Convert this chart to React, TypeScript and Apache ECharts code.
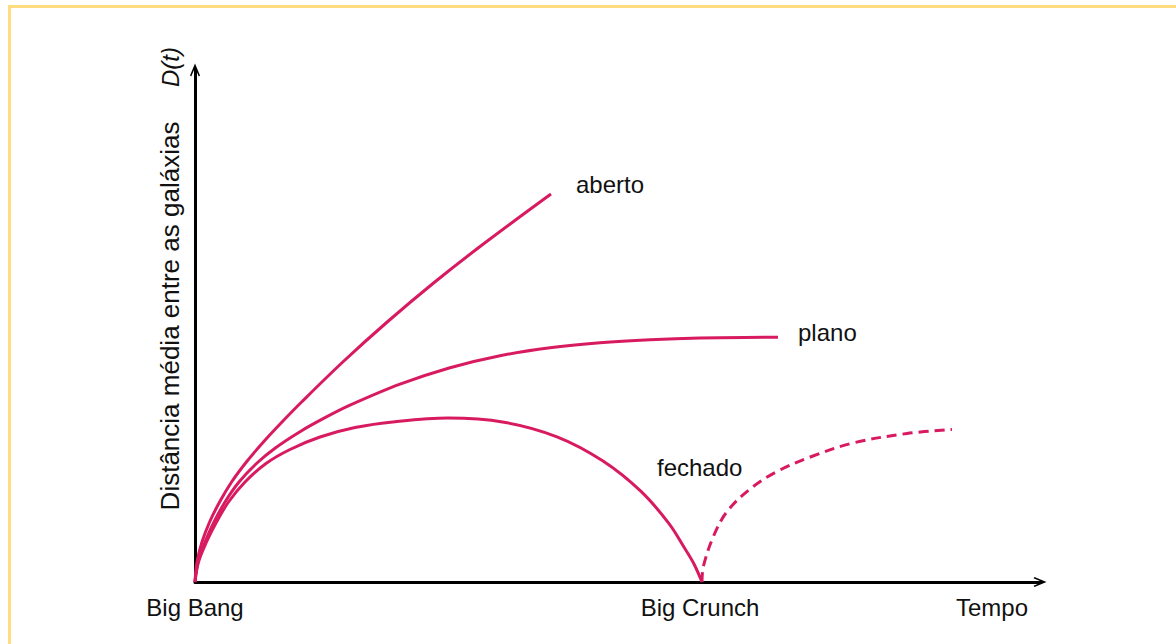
import React, { useEffect, useRef } from "react";
import * as echarts from "echarts";

// Arbitrary units (time t, mean distance D)
const abertoT = [0, 0.2, 0.7, 1.46, 2.46, 3.66, 5.14, 6.84, 8.7, 10.66, 14.78, 19.22, 23.98, 29.1, 35.6];
const abertoD = [0, 2, 4, 6, 8, 10, 12, 14, 16, 18, 22, 26, 30, 34, 38.8];

const planoT = [0, 0.3, 1.0, 1.9, 3.0, 4.4, 6.2, 8.0, 10.5, 13.0, 15.5, 20.5, 25.5, 30.5, 35.5, 40.5, 45.5, 50.5, 58.3];
const planoD = [0, 2, 4, 6, 8, 10, 11.9, 13.38, 15.03, 16.43, 17.68, 19.78, 21.43, 22.63, 23.43, 23.93, 24.23, 24.4, 24.48];

const fechadoT = [0, 0.35, 1.15, 2.15, 3.35, 5.0, 7.1, 9.5, 12.5, 16.0, 20.0, 25.3, 30.9, 36.2, 40.8, 44.6, 47.4, 49.0, 49.9, 50.7];
const fechadoD = [0, 2, 4, 6, 8, 10, 11.85, 13.25, 14.5, 15.45, 16.03, 16.4, 15.98, 14.52, 12.1, 9.06, 5.84, 3.32, 1.8, 0];

const rebirthT = [50.7, 50.83, 51.83, 53.17, 55.5, 58.3, 61.8, 65.8, 71.2, 75.7];
const rebirthD = [0, 1.53, 4.53, 7.0, 9.3, 11.1, 12.6, 13.9, 14.85, 15.25];

const xTickValues = [0, 50.5, 79.7];
const xTickLabels = ["Big Bang", "Big Crunch", "Tempo"];

const curveNames = ["aberto", "plano", "fechado"];
const yTitle = "Distância média entre as galáxias";
const yTopLabel = "D(t)";

const zip = (a: number[], b: number[]) => a.map((v, i) => [v, b[i]]);

const CURVE = "#D81B60";
const FONT = "Liberation Sans, Arial, sans-serif";
const ARROW = "path://M5 0 L10 12 L8.8 13 L6 6.5 L6 13 L4 13 L4 6.5 L1.2 13 L0 12 Z";

export default function App() {
  const ref = useRef<HTMLDivElement>(null);
  useEffect(() => {
    if (!ref.current) return;
    const chart = echarts.init(ref.current, null, { renderer: "svg" });
    const lineSeries = (name: string, data: number[][], dashed = false) => ({
      type: "line",
      name,
      data,
      smooth: 0.35,
      showSymbol: false,
      symbol: "none",
      lineStyle: { color: CURVE, width: 3, type: dashed ? [10, 6] : "solid", cap: "butt" },
      z: 3,
    });
    chart.setOption({
      animation: false,
      backgroundColor: "#ffffff",
      grid: { left: 195, right: 136, top: 70, bottom: 62 },
      xAxis: {
        type: "value",
        min: 0,
        max: 84.5,
        splitLine: { show: false },
        axisTick: { show: false },
        axisLine: {
          show: true,
          onZero: false,
          symbol: ["none", ARROW],
          symbolSize: [10, 13],
          lineStyle: { color: "#000", width: 3 },
        },
        axisLabel: {
          show: true,
          customValues: xTickValues,
          formatter: (v: number) => {
            const i = xTickValues.findIndex((x) => Math.abs(x - v) < 1e-6);
            return i >= 0 ? xTickLabels[i] : "";
          },
          color: "#111",
          fontSize: 24,
          fontFamily: FONT,
          margin: 13,
          showMinLabel: true,
          showMaxLabel: true,
        },
      },
      yAxis: {
        type: "value",
        min: 0,
        max: 51.2,
        splitLine: { show: false },
        axisTick: { show: false },
        axisLabel: { show: false },
        axisLine: {
          show: true,
          onZero: false,
          symbol: ["none", ARROW],
          symbolSize: [10, 13],
          lineStyle: { color: "#000", width: 3 },
        },
      },
      series: [
        lineSeries(curveNames[0], zip(abertoT, abertoD)),
        lineSeries(curveNames[1], zip(planoT, planoD)),
        lineSeries(curveNames[2], zip(fechadoT, fechadoD)),
        lineSeries(curveNames[2] + "-2", zip(rebirthT, rebirthD), true),
      ],
      graphic: [
        {
          type: "rect",
          shape: { x: 9.5, y: 6.5, width: 1400, height: 1000 },
          style: { fill: "none", stroke: "#FFDC80", lineWidth: 3 },
          silent: true,
        },
        {
          type: "text",
          x: 170,
          y: 316,
          rotation: Math.PI / 2,
          style: {
            text: yTitle,
            fontSize: 26,
            fontFamily: FONT,
            fill: "#111",
            align: "center",
            verticalAlign: "middle",
          },
        },
        {
          type: "text",
          x: 170,
          y: 67,
          rotation: Math.PI / 2,
          style: {
            text: yTopLabel,
            fontSize: 24,
            fontStyle: "italic",
            fontFamily: FONT,
            fill: "#111",
            align: "center",
            verticalAlign: "middle",
          },
        },
        {
          type: "text",
          x: 576,
          y: 184,
          style: { text: curveNames[0], fontSize: 24, fontFamily: FONT, fill: "#111", align: "left", verticalAlign: "middle" },
        },
        {
          type: "text",
          x: 798,
          y: 332,
          style: { text: curveNames[1], fontSize: 24, fontFamily: FONT, fill: "#111", align: "left", verticalAlign: "middle" },
        },
        {
          type: "text",
          x: 657,
          y: 467,
          style: { text: curveNames[2], fontSize: 24, fontFamily: FONT, fill: "#111", align: "left", verticalAlign: "middle" },
        },
      ],
    });
    return () => chart.dispose();
  }, []);
  return (
    <div
      ref={ref}
      style={{ position: "absolute", left: 0, top: 0, width: 1176, height: 644 }}
    />
  );
}
